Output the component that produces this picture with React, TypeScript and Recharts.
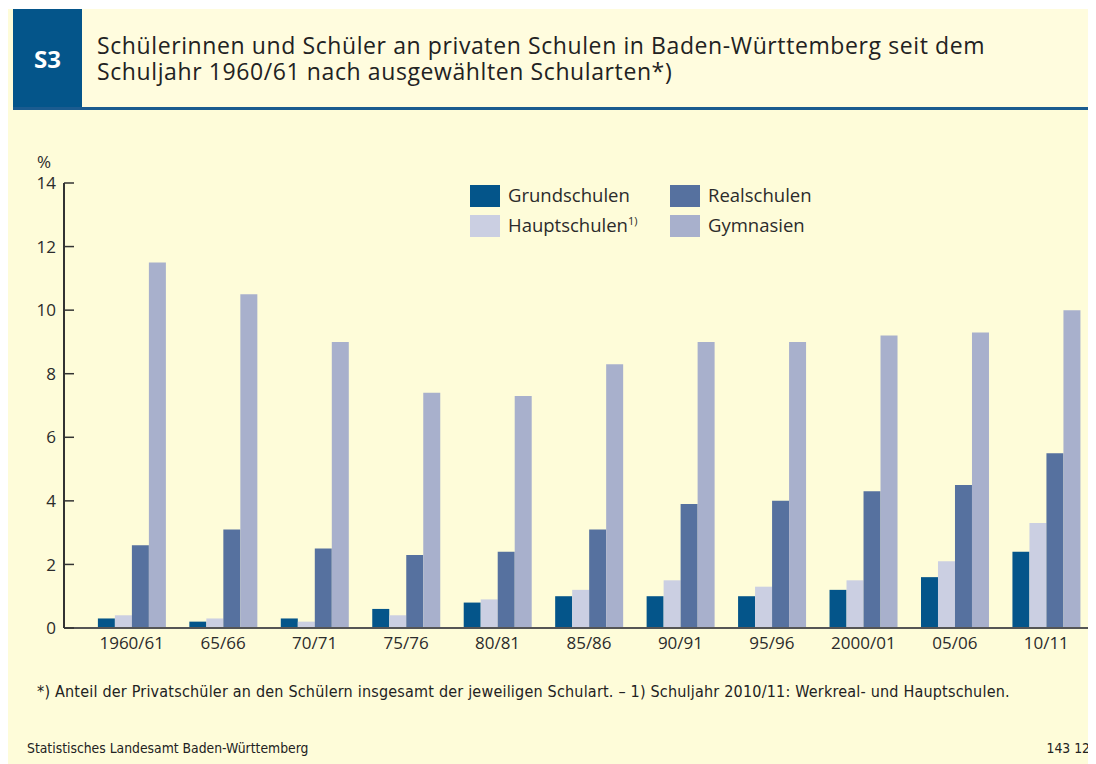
import React from 'react';
import { BarChart, Bar, XAxis, YAxis } from 'recharts';

const years = ['1960/61', '65/66', '70/71', '75/76', '80/81', '85/86', '90/91', '95/96', '2000/01', '05/06', '10/11'];
const grundschulen = [0.3, 0.2, 0.3, 0.6, 0.8, 1.0, 1.0, 1.0, 1.2, 1.6, 2.4];
const hauptschulen = [0.4, 0.3, 0.2, 0.4, 0.9, 1.2, 1.5, 1.3, 1.5, 2.1, 3.3];
const realschulen = [2.6, 3.1, 2.5, 2.3, 2.4, 3.1, 3.9, 4.0, 4.3, 4.5, 5.5];
const gymnasien = [11.5, 10.5, 9.0, 7.4, 7.3, 8.3, 9.0, 9.0, 9.2, 9.3, 10.0];
const yTicks = [0, 2, 4, 6, 8, 10, 12, 14];

const data = years.map((year, i) => ({
  year,
  grundschulen: grundschulen[i],
  hauptschulen: hauptschulen[i],
  realschulen: realschulen[i],
  gymnasien: gymnasien[i],
}));

const colors = {
  grundschulen: '#04558a',
  hauptschulen: '#cbcfe2',
  realschulen: '#56719f',
  gymnasien: '#a8b0cc',
};

const font = '"Open Sans", "Noto Sans", sans-serif';
const narrow = '"Liberation Sans Narrow", "DejaVu Sans Condensed", sans-serif';
const textColor = '#2b2b2b';

const YTick = (props: any) => {
  const { x, y, payload } = props;
  return (
    <g>
      <line x1={x + 8} x2={x + 18} y1={y} y2={y} stroke="#333" strokeWidth={1.5} />
      <text x={x} y={y} dy="0.36em" textAnchor="end" fill={textColor} fontSize={17} fontFamily={font}>
        {payload.value}
      </text>
    </g>
  );
};

const LegendItem = ({ color, left, top, children }: any) => (
  <div style={{ position: 'absolute', left, top, display: 'flex', alignItems: 'center' }}>
    <div style={{ width: 30, height: 22, background: color, marginRight: 8 }} />
    <span style={{ position: 'relative', top: -1.5, fontFamily: font, fontSize: 18.5, color: textColor, whiteSpace: 'nowrap' }}>
      {children}
    </span>
  </div>
);

const titleLine: React.CSSProperties = {
  position: 'absolute', left: 89, fontFamily: font, fontSize: 23, letterSpacing: 0.6,
  lineHeight: '26px', height: 26, color: '#222', whiteSpace: 'nowrap',
};

export default function App() {
  return (
    <div style={{ position: 'relative', width: 1088, height: 756, marginTop: 1, background: '#fefcd9', overflow: 'hidden' }}>
      {/* header */}
      <div style={{ position: 'absolute', left: 5, top: 0, width: 1083, height: 98, background: '#fffcde' }} />
      <div style={{ position: 'absolute', left: 5, top: 98, width: 1083, height: 3, background: '#1b5b8f' }} />
      <div
        style={{
          position: 'absolute', left: 5, top: 0, width: 69, height: 98, background: '#04558a',
          color: '#fff', fontFamily: font, fontWeight: 700, fontSize: 24,
          display: 'flex', alignItems: 'center', justifyContent: 'center',
        }}
      >
        S3
      </div>
      <div style={{ ...titleLine, top: 23 }}>
        Schülerinnen und Schüler an privaten Schulen in Baden-Württemberg seit dem
      </div>
      <div style={{ ...titleLine, top: 49 }}>Schuljahr 1960/61 nach ausgewählten Schularten*)</div>

      {/* axis unit */}
      <div style={{ position: 'absolute', left: 29, top: 141, fontFamily: font, fontSize: 17, color: textColor }}>%</div>

      {/* legend */}
      <LegendItem color={colors.grundschulen} left={462} top={174}>Grundschulen</LegendItem>
      <LegendItem color={colors.hauptschulen} left={462} top={204}>
        Hauptschulen<sup style={{ fontSize: 11 }}>1)</sup>
      </LegendItem>
      <LegendItem color={colors.realschulen} left={662} top={174}>Realschulen</LegendItem>
      <LegendItem color={colors.gymnasien} left={662} top={204}>Gymnasien</LegendItem>

      <div style={{ position: 'absolute', left: 0, top: 0 }}>
        <BarChart
          width={1088}
          height={700}
          data={data}
          margin={{ top: 174, right: 4, left: 16, bottom: 51 }}
          barCategoryGap="13%"
          barGap={0}
        >
          <XAxis
            dataKey="year"
            padding={{ left: 22, right: 0 }}
            tickSize={0}
            tickMargin={9}
            height={30}
            axisLine={{ stroke: '#555', strokeWidth: 2 }}
            tick={{ fontSize: 17, fill: textColor, fontFamily: font }}
            interval={0}
          />
          <YAxis
            width={40}
            domain={[0, 14]}
            ticks={yTicks}
            tickSize={0}
            tickMargin={8}
            tickLine={false}
            axisLine={{ stroke: '#333', strokeWidth: 2 }}
            tick={<YTick />}
            interval={0}
          />
          <Bar dataKey="grundschulen" fill={colors.grundschulen} isAnimationActive={false} />
          <Bar dataKey="hauptschulen" fill={colors.hauptschulen} isAnimationActive={false} />
          <Bar dataKey="realschulen" fill={colors.realschulen} isAnimationActive={false} />
          <Bar dataKey="gymnasien" fill={colors.gymnasien} isAnimationActive={false} />
        </BarChart>
      </div>

      {/* footnotes */}
      <div
        style={{
          position: 'absolute', left: 29, top: 673, fontFamily: narrow,
          fontSize: 16, letterSpacing: 0.2, color: '#222', whiteSpace: 'nowrap',
        }}
      >
        *) Anteil der Privatschüler an den Schülern insgesamt der jeweiligen Schulart. – 1) Schuljahr 2010/11: Werkreal- und Hauptschulen.
      </div>
      <div style={{ position: 'absolute', left: 19, top: 731, fontFamily: narrow, fontSize: 13.8, color: '#222', whiteSpace: 'nowrap' }}>
        Statistisches Landesamt Baden-Württemberg
      </div>
      <div style={{ position: 'absolute', right: 6, top: 731, fontFamily: narrow, fontSize: 13.8, color: '#222', whiteSpace: 'nowrap' }}>
        143 12
      </div>
    </div>
  );
}
